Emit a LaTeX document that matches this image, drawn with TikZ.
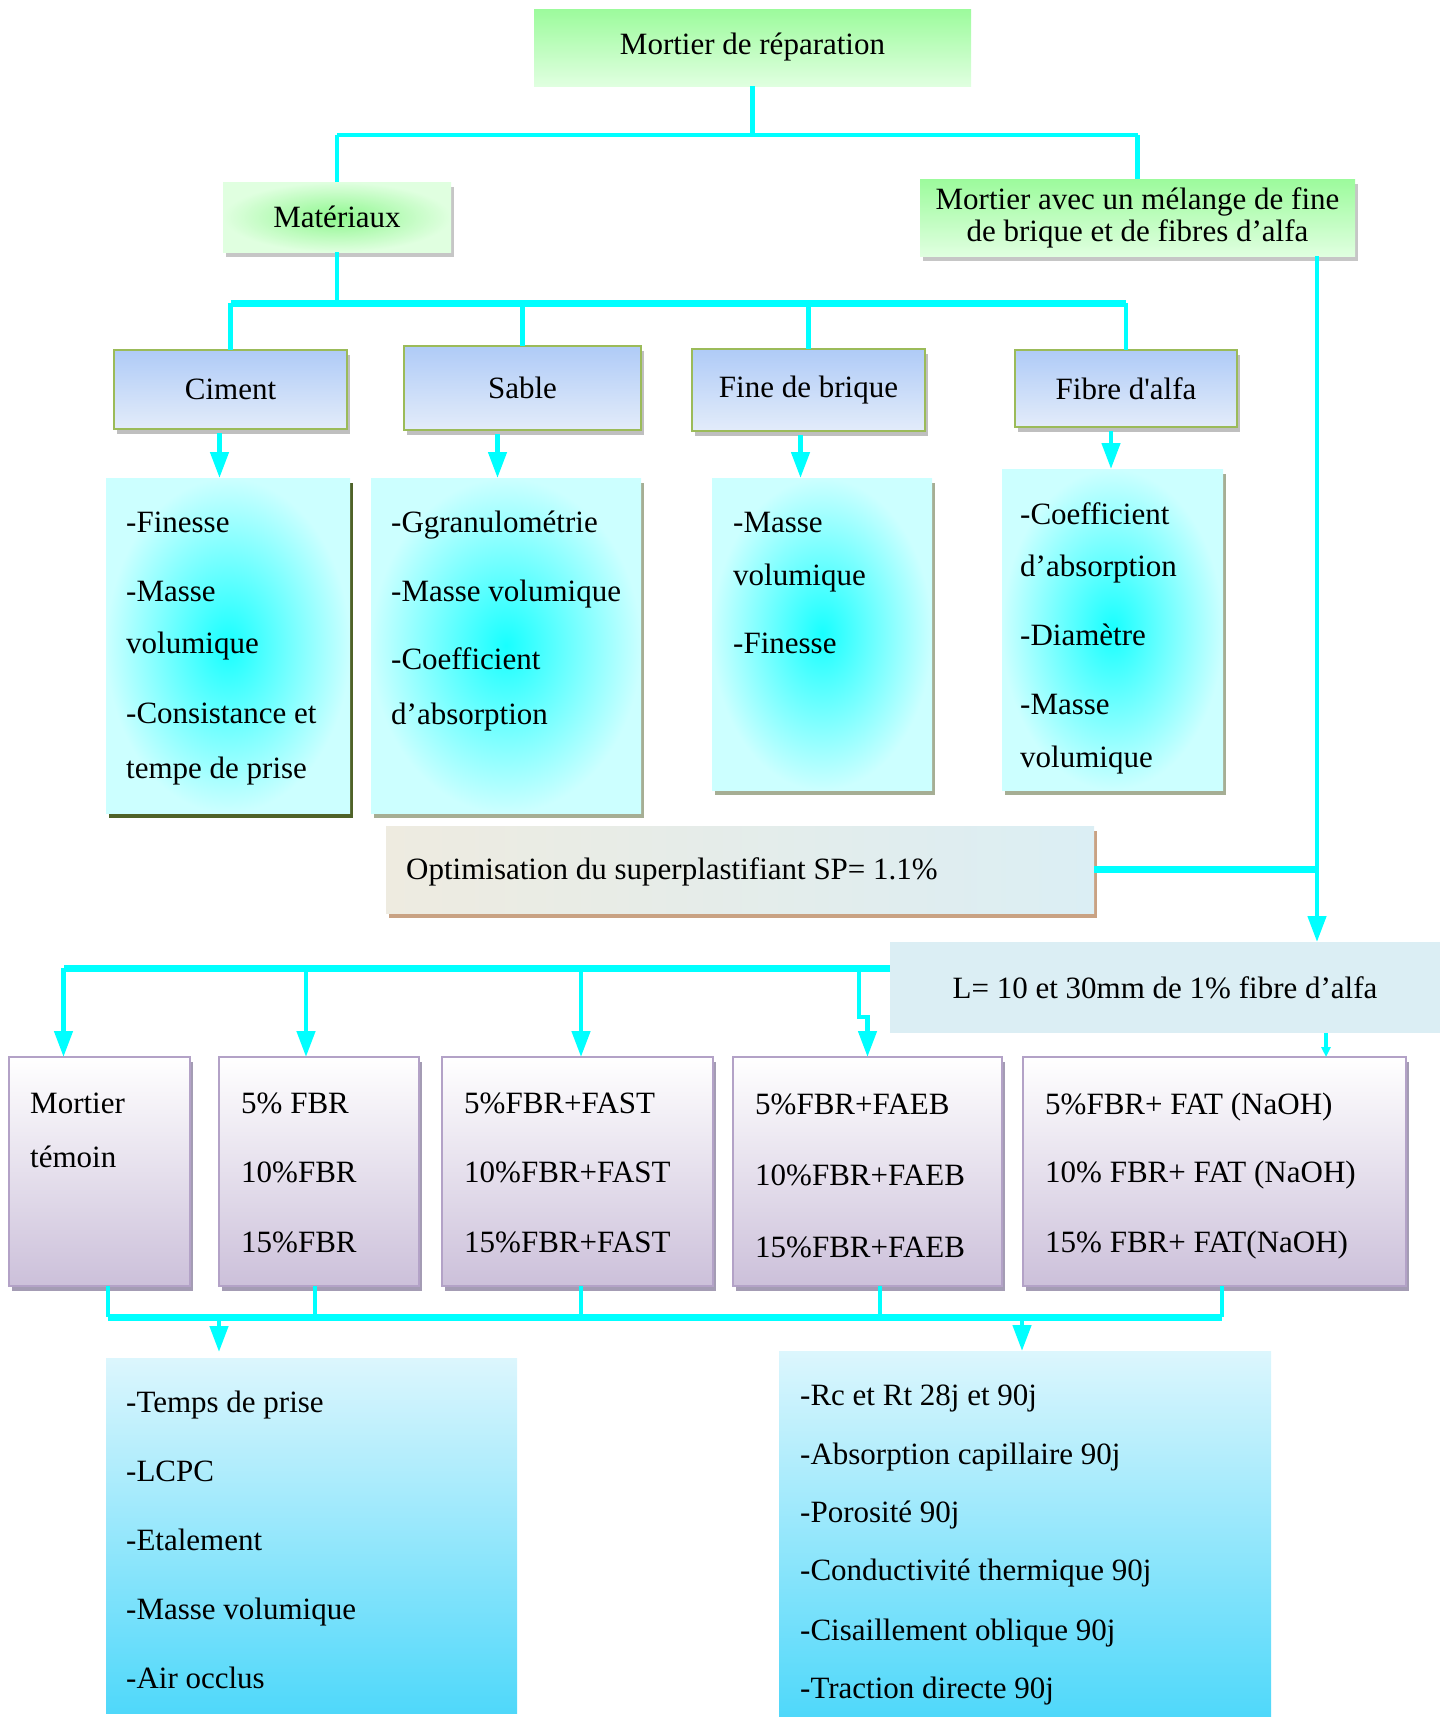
\documentclass[tikz,border=0pt]{standalone}
\usepackage{fontspec}
\setmainfont{Liberation Serif}
\usetikzlibrary{positioning,calc,arrows.meta}
\definecolor{linkcyan}{HTML}{00FFFF}
\definecolor{topgreen}{HTML}{9CFB9C}
\definecolor{matgreen}{HTML}{8EF78E}
\definecolor{palegreen}{HTML}{E0FFE0}
\definecolor{catblue}{HTML}{AFCBF7}
\definecolor{paleblue}{HTML}{E3ECFA}
\definecolor{olivegreen}{HTML}{9BBB59}
\definecolor{propcyan}{HTML}{18FFFF}
\definecolor{palecyan}{HTML}{CCFFFF}
\definecolor{darkolive}{HTML}{4F6228}
\definecolor{greyolive}{HTML}{A6AE94}
\definecolor{sand}{HTML}{EEEBE0}
\definecolor{mist}{HTML}{DBEEF4}
\definecolor{tanline}{HTML}{C9A283}
\definecolor{lilac}{HTML}{CCC0DA}
\definecolor{lilacline}{HTML}{B3A2C7}
\definecolor{lilacshadow}{HTML}{A49CB4}
\definecolor{skytop}{HTML}{DCF6FD}
\definecolor{skybottom}{HTML}{4FD8FA}

\begin{document}
\begin{tikzpicture}[x=1pt,y=-1pt,font=\fontsize{31}{36}\selectfont,
  box/.style={inner sep=0pt,outer sep=0pt,anchor=north west,align=center},
  link/.style={linkcyan,line width=4.5pt},
  bar/.style={linkcyan,line width=7pt},
  arr/.style={linkcyan,line width=4.5pt,-{Triangle[length=26pt,width=18pt]}},
  shad/.style={preaction={fill=#1,transform canvas={xshift=3pt,yshift=-5pt}}},
  item/.style={anchor=west,inner sep=0pt,text height=20pt,text depth=0pt}]
  \useasboundingbox (0,0) rectangle (1440,1717);
  % top
  \node[box,top color=topgreen,bottom color=palegreen,minimum width=437pt,minimum height=77pt] (top) at (534,9) {Mortier de réparation};
  \node[box,shad=gray!45,inner color=matgreen,outer color=palegreen,minimum width=228pt,minimum height=70pt] (mat) at (223,182) {Matériaux};
  \node[box,shad=gray!45,top color=topgreen,bottom color=palegreen,minimum width=435pt,minimum height=77pt] (mel) at (920,179) {Mortier avec un mélange de fine\\[-4pt]de brique et de fibres d’alfa};
  \coordinate (split) at ([yshift=-49pt]top.south);
  \draw[link] (top.south) -- (split);
  \draw[link] (split -| mat.north) -- (split -| mel.north);
  \draw[link] (split -| mat.north) -- (mat.north);
  \draw[link] (split -| mel.north) -- (mel.north);
  % materials
  \node[box,shad=gray!50,draw=olivegreen,line width=2pt,top color=catblue,bottom color=paleblue,minimum width=233pt,minimum height=79pt] (ciment) at (114,350) {Ciment};
  \node[box,shad=gray!50,draw=olivegreen,line width=2pt,top color=catblue,bottom color=paleblue,minimum width=237pt,minimum height=84pt] (sable) at (404,346) {Sable};
  \node[box,shad=gray!50,draw=olivegreen,line width=2pt,top color=catblue,bottom color=paleblue,minimum width=233pt,minimum height=82pt] (fine) at (692,349) {Fine de brique};
  \node[box,shad=gray!50,draw=olivegreen,line width=2pt,top color=catblue,bottom color=paleblue,minimum width=222pt,minimum height=77pt] (fibre) at (1015,350) {Fibre d\textquotesingle alfa};
  \coordinate (bus1) at ([yshift=-51pt]mat.south);
  \draw[link] (mat.south) -- (bus1);
  \draw[bar] (bus1 -| ciment.north) -- (bus1 -| fibre.north);
  \foreach \n in {ciment,sable,fine,fibre}
    \draw[link] (bus1 -| \n.north) -- (\n.north);
  % properties
  \node[box,shad=darkolive,inner color=propcyan,outer color=palecyan,minimum width=244pt,minimum height=335pt] (pciment) at (106,478) {};
  \node[box,shad=greyolive,inner color=propcyan,outer color=palecyan,minimum width=270pt,minimum height=335pt] (psable) at (371,478) {};
  \node[box,shad=greyolive,inner color=propcyan,outer color=palecyan,minimum width=220pt,minimum height=312pt] (pfine) at (712,478) {};
  \node[box,shad=greyolive,inner color=propcyan,outer color=palecyan,minimum width=221pt,minimum height=321pt] (pfibre) at (1002,469) {};
  \foreach \n/\p/\s in {ciment/pciment/-11,sable/psable/-25,fine/pfine/-8,fibre/pfibre/-15}
    \draw[arr] ([xshift=\s pt,yshift=-4pt]\n.south) -- ([xshift=\s pt]\n.south |- \p.north);
  \foreach \y/\t [count=\i] in {522/-Finesse,591/-Masse,643/volumique,713/-Consistance et,768/tempe de prise}
    \node[item] (ci\i) at (126,\y) {\t};
  \foreach \y/\t [count=\i] in {522/-Ggranulométrie,591/-Masse volumique,659/-Coefficient,714/d’absorption}
    \node[item] (sa\i) at (391,\y) {\t};
  \foreach \y/\t [count=\i] in {522/-Masse,575/volumique,643/-Finesse}
    \node[item] (fi\i) at (733,\y) {\t};
  \foreach \y/\t [count=\i] in {514/-Coefficient,566/d’absorption,635/-Diamètre,704/-Masse,757/volumique}
    \node[item] (fa\i) at (1020,\y) {\t};
  % superplastifiant
  \node[box,shad=tanline,left color=sand,right color=mist,minimum width=708pt,minimum height=87pt] (optim) at (386,826) {};
  \node[item] (optimtext) at ([xshift=20pt]optim.west) {Optimisation du superplastifiant SP= 1.1\%};
  \node[box,fill=mist,minimum width=550pt,minimum height=91pt] (lbox) at (890,942) {L= 10 et 30mm de 1\% fibre d’alfa};
  \coordinate (drop) at ([xshift=-38pt]mel.south east);
  \draw[arr] (drop) -- (drop |- lbox.north);
  \draw[bar] (optim.east) -- (optim.east -| drop);
  % mixes
  \node[box,shad=lilacshadow,draw=lilacline,line width=2.5pt,top color=white,bottom color=lilac,minimum width=181pt,minimum height=229pt] (temoin) at (9,1057) {};
  \node[box,shad=lilacshadow,draw=lilacline,line width=2.5pt,top color=white,bottom color=lilac,minimum width=200pt,minimum height=229pt] (fbr) at (219,1057) {};
  \node[box,shad=lilacshadow,draw=lilacline,line width=2.5pt,top color=white,bottom color=lilac,minimum width=271pt,minimum height=229pt] (fast) at (442,1057) {};
  \node[box,shad=lilacshadow,draw=lilacline,line width=2.5pt,top color=white,bottom color=lilac,minimum width=269pt,minimum height=229pt] (faeb) at (733,1057) {};
  \node[box,shad=lilacshadow,draw=lilacline,line width=2.5pt,top color=white,bottom color=lilac,minimum width=383pt,minimum height=229pt] (fat) at (1023,1057) {};
  \coordinate (bus2) at ([yshift=19.5pt]lbox.west);
  \draw[bar] (bus2) -- ([xshift=-36pt]temoin.north |- bus2);
  \foreach \n/\s in {temoin/-36,fbr/-13,fast/3.5}
    \draw[arr] ([xshift=\s pt]\n.north |- bus2) -- ([xshift=\s pt]\n.north);
  \draw[arr] ([xshift=-8.5pt]faeb.north |- bus2) -- ++(0,49) -| (faeb.north);
  \draw[linkcyan,line width=4.5pt,-{Triangle[length=10pt,width=9pt]}] ([xshift=161pt]lbox.south) -- ([xshift=161pt]lbox.south |- fat.north);
  \foreach \y/\t [count=\i] in {1103/Mortier,1157/témoin}
    \node[item] (te\i) at (30,\y) {\t};
  \foreach \y/\t [count=\i] in {1103/5\% FBR,1172/10\%FBR,1242/15\%FBR}
    \node[item] (fb\i) at (241,\y) {\t};
  \foreach \y/\t [count=\i] in {1103/5\%FBR+FAST,1172/10\%FBR+FAST,1242/15\%FBR+FAST}
    \node[item] (fs\i) at (464,\y) {\t};
  \foreach \y/\t [count=\i] in {1104/5\%FBR+FAEB,1175/10\%FBR+FAEB,1247/15\%FBR+FAEB}
    \node[item] (fe\i) at (755,\y) {\t};
  \foreach \y/\t [count=\i] in {1104/5\%FBR+ FAT (NaOH),1172/10\% FBR+ FAT (NaOH),1242/15\% FBR+ FAT(NaOH)}
    \node[item] (ft\i) at (1045,\y) {\t};
  % tests
  \coordinate (bus3) at ([yshift=-31pt]temoin.south);
  \foreach \n/\s in {temoin/8.5,fbr/-4,fast/3.5,faeb/12.5,fat/7.5}
    \draw[link] ([xshift=\s pt]\n.south) -- ([xshift=\s pt]\n.south |- bus3);
  \draw[bar] ([xshift=8.5pt]temoin.south |- bus3) -- ([xshift=7.5pt]fat.south |- bus3);
  \node[box,top color=skytop,bottom color=skybottom,minimum width=411pt,minimum height=355pt] (outl) at (106,1358) {};
  \node[box,top color=skytop,bottom color=skybottom,minimum width=492pt,minimum height=366pt] (outr) at (779,1351) {};
  \draw[arr] ([xshift=-92.5pt]outl.north |- bus3) -- ([xshift=-92.5pt,yshift=6pt]outl.north);
  \draw[arr] ([xshift=-3pt]outr.north |- bus3) -- ([xshift=-3pt]outr.north);
  \foreach \y/\t [count=\i] in {1402/-Temps de prise,1471/-LCPC,1540/-Etalement,1609/-Masse volumique,1678/-Air occlus}
    \node[item] (ol\i) at (126,\y) {\t};
  \foreach \y/\t [count=\i] in {1395/-Rc et Rt 28j et 90j,1454/-Absorption capillaire 90j,1512/-Porosité 90j,1570/-Conductivité thermique 90j,1630/-Cisaillement oblique 90j,1688/-Traction directe 90j}
    \node[item] (or\i) at (800,\y) {\t};
\end{tikzpicture}
\end{document}
